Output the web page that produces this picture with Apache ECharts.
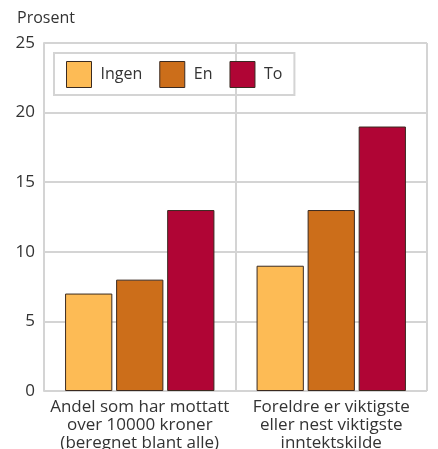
<!DOCTYPE html>
<html>
<head>
<meta charset="utf-8">
<script src="https://cdn.jsdelivr.net/npm/echarts@6/dist/echarts.min.js"></script>
<style>
  html, body { margin: 0; padding: 0; background: #fff; }
  #chart { width: 438px; height: 449px; }
</style>
</head>
<body>
<div id="chart"></div>
<script>
const categories = [
  'Andel som har mottatt\nover 10000 kroner\n(beregnet blant alle)',
  'Foreldre er viktigste\neller nest viktigste\ninntektskilde'
]
const seriesNames = ['Ingen', 'En', 'To']
const ingen = [7, 9]
const en = [8, 13]
const to = [13, 19]
const colors = ['#FDBB55', '#CC6E1A', '#B00535']

const font = '"Open Sans", "Noto Sans", sans-serif'
const values = [ingen, en, to]

const chart = echarts.init(document.getElementById('chart'))
chart.setOption({
  animation: false,
  textStyle: { fontFamily: font },
  grid: { left: 44, right: 11, top: 43, bottom: 58, outerBoundsMode: 'none' },
  legend: {
    left: 54,
    top: 53,
    padding: [8, 12, 7, 12],
    borderColor: '#d4d4d4',
    borderWidth: 2,
    icon: 'rect',
    itemWidth: 25,
    itemHeight: 26,
    itemGap: 17,
    itemStyle: { borderColor: '#3a2a20', borderWidth: 1 },
    textStyle: { fontSize: 16, color: '#333', fontFamily: font, padding: [0, 0, 0, 4] },
    data: seriesNames
  },
  xAxis: {
    type: 'category',
    data: categories,
    axisLine: { show: false },
    axisTick: { show: false },
    splitLine: { show: true, interval: 0, lineStyle: { color: '#d4d4d4', width: 2 } },
    axisLabel: { interval: 0, color: '#333', fontSize: 17, lineHeight: 18, margin: 7, fontFamily: font }
  },
  yAxis: {
    type: 'value',
    min: 0,
    max: 25,
    interval: 5,
    name: 'Prosent',
    nameLocation: 'end',
    nameGap: 17,
    nameTextStyle: { align: 'left', padding: [0, 0, 0, -27], fontSize: 16, color: '#333', fontFamily: font },
    axisLine: { show: true, lineStyle: { color: '#d4d4d4', width: 2 } },
    axisTick: { show: false },
    splitLine: { lineStyle: { color: '#d4d4d4', width: 2 } },
    axisLabel: { color: '#333', fontSize: 17, margin: 9, fontFamily: font }
  },
  series: seriesNames.map((name, i) => ({
    name: name,
    type: 'bar',
    data: values[i],
    barGap: '8%',
    barCategoryGap: '22%',
    itemStyle: { color: colors[i], borderColor: '#3a2a20', borderWidth: 1 }
  }))
})
</script>
</body>
</html>
